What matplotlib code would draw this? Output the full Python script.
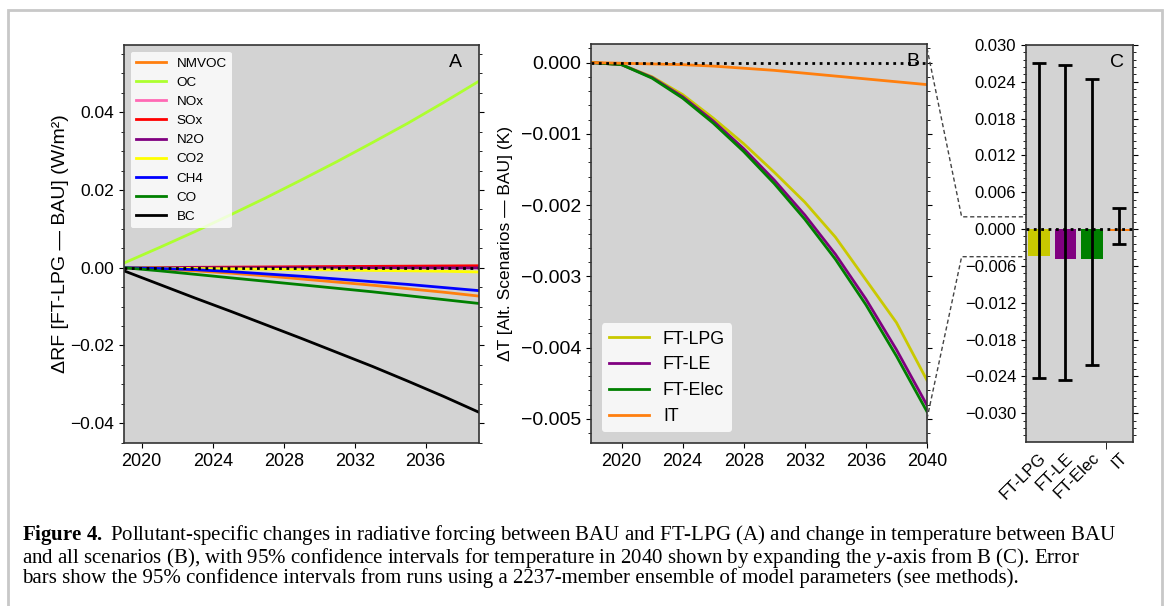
import matplotlib
matplotlib.use("Agg")
import matplotlib.pyplot as plt
from matplotlib.ticker import AutoMinorLocator, MultipleLocator
from matplotlib.lines import Line2D
from matplotlib.patches import Rectangle

plt.rcParams['font.family'] = ['Liberation Sans', 'DejaVu Sans']
plt.rcParams['mathtext.fontset'] = 'custom'
plt.rcParams['mathtext.rm'] = 'Liberation Serif'
plt.rcParams['mathtext.bf'] = 'Liberation Serif:bold'
plt.rcParams['mathtext.it'] = 'Liberation Serif:italic'

# --- Panel A: radiative forcing by pollutant (FT-LPG - BAU) ---
years_a = [2019, 2021, 2023, 2025, 2027, 2029, 2031, 2033, 2035, 2037, 2039]
nmvoc = [0, -0.0003, -0.0008, -0.0014, -0.0021, -0.0029, -0.0037, -0.0045, -0.0054, -0.0063, -0.0073]
oc = [0.0012, 0.0052, 0.0093, 0.0136, 0.0180, 0.0226, 0.0273, 0.0322, 0.0372, 0.0425, 0.0480]
nox = [0, 0.00002, 0.00004, 0.00006, 0.00008, 0.0001, 0.00012, 0.00014, 0.00016, 0.00018, 0.0002]
sox = [0, 0.00005, 0.0001, 0.00015, 0.0002, 0.00025, 0.0003, 0.00035, 0.0004, 0.00045, 0.0005]
n2o = [0, 0, 0, -0.00001, -0.00001, -0.00002, -0.00002, -0.00003, -0.00003, -0.00004, -0.00004]
co2 = [0, -0.0001, -0.0002, -0.0003, -0.0004, -0.0005, -0.0006, -0.0007, -0.0008, -0.0009, -0.0011]
ch4 = [0, -0.0002, -0.0005, -0.0010, -0.0016, -0.0022, -0.0029, -0.0036, -0.0043, -0.0051, -0.0059]
co = [0, -0.0008, -0.0017, -0.0026, -0.0035, -0.0044, -0.0053, -0.0062, -0.0072, -0.0082, -0.0092]
bc = [-0.0008, -0.0043, -0.0078, -0.0112, -0.0147, -0.0182, -0.0218, -0.0254, -0.0292, -0.0331, -0.0372]

pollutants = ['NMVOC', 'OC', 'NOx', 'SOx', 'N2O', 'CO2', 'CH4', 'CO', 'BC']
pollutant_series = [nmvoc, oc, nox, sox, n2o, co2, ch4, co, bc]
pollutant_colors = ['tab:orange', 'greenyellow', 'hotpink', 'red', 'purple',
                    'yellow', 'blue', 'green', 'black']

# --- Panel B: temperature change, scenarios - BAU ---
years_b = [2018, 2020, 2022, 2024, 2026, 2028, 2030, 2032, 2034, 2036, 2038, 2040]
ft_lpg = [0, -0.00003, -0.00020, -0.00045, -0.00078, -0.00114, -0.00154, -0.00196, -0.00245, -0.00305, -0.00365, -0.00446]
ft_le = [0, -0.00003, -0.00021, -0.00048, -0.00082, -0.00121, -0.00165, -0.00214, -0.00269, -0.00332, -0.00403, -0.00481]
ft_elec = [0, -0.00003, -0.00022, -0.00050, -0.00085, -0.00125, -0.00170, -0.00220, -0.00276, -0.00340, -0.00412, -0.00490]
it = [0, -0.00001, -0.00002, -0.00003, -0.00005, -0.00008, -0.00011, -0.00015, -0.00019, -0.00023, -0.00027, -0.00031]

scenarios = ['FT-LPG', 'FT-LE', 'FT-Elec', 'IT']
scenario_series = [ft_lpg, ft_le, ft_elec, it]
scenario_colors = ['#c9c900', 'purple', 'green', 'tab:orange']

# --- Panel C: 2040 temperature change with 95% CI ---
dt_2040 = [-0.00446, -0.00481, -0.00490, -0.00031]
ci_low = [-0.0243, -0.0246, -0.0221, -0.0025]
ci_high = [0.0271, 0.0268, 0.0245, 0.0035]
bar_pos = [0, 0.4, 0.8, 1.2]

W, H = 1168, 606
fig = plt.figure(figsize=(W / 100, H / 100), dpi=100)


def box(left, top, right, bottom):
    return [left / W, (H - bottom) / H, (right - left) / W, (bottom - top) / H]


def style_axes(ax, tick_size):
    ax.set_facecolor('lightgray')
    ax.tick_params(which='both', direction='out', right=True, labelsize=tick_size)
    ax.tick_params(axis='x', which='minor', bottom=False)
    for s in ax.spines.values():
        s.set_linewidth(1.2)
        s.set_color('#333333')


# --- A ---
axA = fig.add_axes(box(124, 45, 479, 443))
for name, vals, col in zip(pollutants, pollutant_series, pollutant_colors):
    axA.plot(years_a, vals, color=col, lw=2, label=name)
axA.axhline(0, color='black', ls=':', lw=2)
axA.set_xlim(2019, 2039)
axA.set_ylim(-0.0451, 0.0573)
axA.set_xticks([2020, 2024, 2028, 2032, 2036])
axA.yaxis.set_major_locator(MultipleLocator(0.02))
axA.yaxis.set_minor_locator(AutoMinorLocator(4))
style_axes(axA, 13)
axA.tick_params(axis='y', labelsize=12.5)
axA.set_ylabel('ΔRF [FT-LPG — BAU] (W/m²)', fontsize=14)
axA.yaxis.set_label_coords(-0.155, 0.5)
axA.legend(loc='upper left', fontsize=9.7, handlelength=2.2, borderaxespad=0.5,
           frameon=True, facecolor='white', edgecolor='none', framealpha=0.8)
axA.text(0.935, 0.957, 'A', transform=axA.transAxes, fontsize=14, ha='center', va='center')

# --- B ---
axB = fig.add_axes(box(591, 44, 927, 443))
for name, vals, col in zip(scenarios, scenario_series, scenario_colors):
    axB.plot(years_b, vals, color=col, lw=2, label=name)
axB.axhline(0, color='black', ls=':', lw=2)
axB.set_xlim(2018, 2040)
axB.set_ylim(-0.00534, 0.00026)
axB.set_xticks([2020, 2024, 2028, 2032, 2036, 2040])
axB.yaxis.set_major_locator(MultipleLocator(0.001))
axB.yaxis.set_minor_locator(AutoMinorLocator(5))
style_axes(axB, 13)
axB.tick_params(axis='y', labelsize=14)
axB.set_ylabel('ΔT [Alt. Scenarios — BAU] (K)', fontsize=12.5)
axB.yaxis.set_label_coords(-0.232, 0.5)
axB.legend(loc='lower left', fontsize=12.8, handlelength=2.25, borderaxespad=0.6,
           frameon=True, facecolor='white', edgecolor='none', framealpha=0.8)
axB.text(0.958, 0.955, 'B', transform=axB.transAxes, fontsize=14, ha='center', va='center')

# --- C ---
axC = fig.add_axes(box(1026, 45, 1133, 442))
axC.bar(bar_pos, dt_2040, width=0.325, color=scenario_colors, zorder=2)
yerr = [[v - lo for v, lo in zip(dt_2040, ci_low)], [hi - v for v, hi in zip(dt_2040, ci_high)]]
axC.errorbar(bar_pos, dt_2040, yerr=yerr, fmt='none', ecolor='black', elinewidth=2,
             capsize=5, capthick=2, zorder=3)
axC.axhline(0, color='black', ls=':', lw=2, zorder=4)
axC.set_xlim(-0.19, 1.41)
axC.set_ylim(-0.0347, 0.030)
axC.yaxis.set_major_locator(MultipleLocator(0.006))
axC.yaxis.set_minor_locator(AutoMinorLocator(5))
axC.set_xticks(bar_pos, scenarios, rotation=45, ha='right', rotation_mode='anchor')
style_axes(axC, 12)
axC.tick_params(axis='x', which='major', length=0, labelsize=12, pad=6)
axC.set_xticks([0, 1], minor=True)
axC.tick_params(axis='x', which='minor', bottom=True, length=5)
axC.text(0.85, 0.955, 'C', transform=axC.transAxes, fontsize=14, ha='center', va='center')

# --- dashed connectors B -> C ---
to_fig = fig.transFigure.inverted()
for yb, yc in [(0.0002, 0.002), (-0.005, -0.0045)]:
    p1 = axB.transData.transform((2040, yb))
    p3 = axC.transData.transform((-0.19, yc))
    xe = p1[0] + 0.35 * (p3[0] - p1[0])
    pts = to_fig.transform([p1, (xe, p3[1]), p3])
    fig.add_artist(Line2D(pts[:, 0], pts[:, 1], transform=fig.transFigure,
                          color='#444444', lw=1, ls=(0, (3, 2))))

# --- frame and caption ---
fig.add_artist(Rectangle((8 / W, -0.05), (1162 - 8) / W, (H - 10) / H + 0.05,
                         transform=fig.transFigure, fill=False, edgecolor='#c8c8c8', lw=2))
caption = '\n'.join([
    r'$\mathbf{Figure\ 4.}$ Pollutant-specific changes in radiative forcing between BAU and FT-LPG (A) and change in temperature between BAU',
    r'and all scenarios (B), with 95% confidence intervals for temperature in 2040 shown by expanding the $\mathit{y}$-axis from B (C). Error',
    'bars show the 95% confidence intervals from runs using a 2237-member ensemble of model parameters (see methods).',
])
fig.text(22 / W, 1 - 523 / H, caption, family='Liberation Serif', fontsize=15,
         ha='left', va='top', linespacing=0.92)

fig.savefig('out.png', dpi=100)
